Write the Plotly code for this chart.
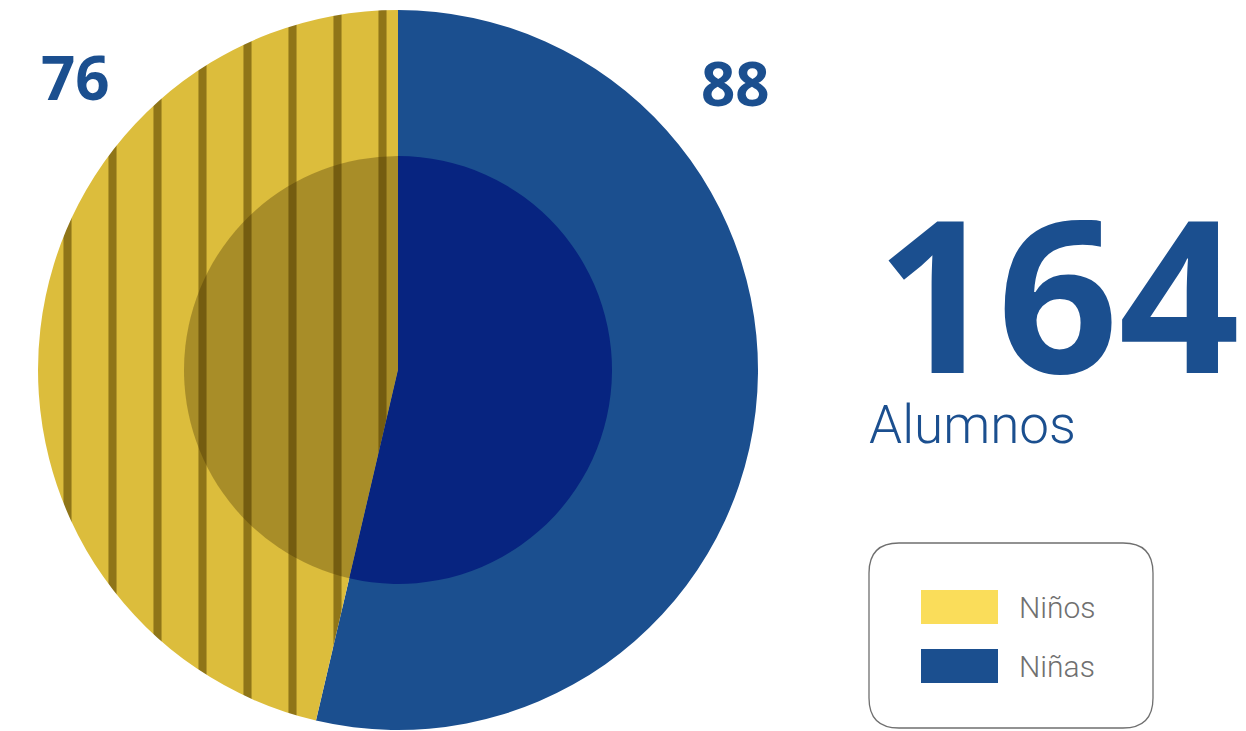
import plotly.graph_objects as go

W, H = 1246, 731

labels = ["Niñas", "Niños"]
values = [88, 76]
total = sum(values)

outer_colors = ["#1B4F8F", "#DCBD3C"]
inner_colors = ["#072480", "rgba(60,40,0,0.32)"]
legend_colors = {"Niños": "#FADD5A", "Niñas": "#1B4F8F"}
legend_order = ["Niños", "Niñas"]

blue = "#1B4F8F"
grey = "#707070"


def px_dom(x0, x1, y0, y1):
    # pixel box -> paper domain
    return dict(x=[x0 / W, x1 / W], y=[1 - y1 / H, 1 - y0 / H])


fig = go.Figure()

fig.add_trace(go.Pie(
    labels=labels, values=values, sort=False, direction="clockwise", rotation=0,
    marker=dict(colors=outer_colors, line=dict(width=0),
                pattern=dict(shape=["", "|"], fgcolor="#6E5608", bgcolor="#DCBD3C",
                             size=45, solidity=0.18, fgopacity=0.7)),
    textinfo="none", showlegend=False, hoverinfo="label+value",
    domain=px_dom(38, 758, 10, 730),
))

fig.add_trace(go.Pie(
    labels=labels, values=values, sort=False, direction="clockwise", rotation=0,
    marker=dict(colors=inner_colors, line=dict(width=0)),
    textinfo="none", showlegend=False, hoverinfo="label+value",
    domain=px_dom(184, 612, 156, 584),
))

annotations = [
    dict(x=75, y=77, text=str(values[1]), font=dict(size=60, color=blue, family="Open Sans", weight="bold")),
    dict(x=735, y=83, text=str(values[0]), font=dict(size=60, color=blue, family="Open Sans", weight="bold")),
    dict(x=1058, y=290, text=str(total), font=dict(size=212, color=blue, family="Open Sans", weight="bold")),
    dict(x=867, y=425, text="Alumnos", xanchor="left",
         font=dict(size=53, color=blue, family="Roboto", weight=300)),
]

shapes = []
x0, y0, x1, y1, r = 869, 543, 1153, 728, 30
path = (f"M {x0 + r},{y0} L {x1 - r},{y0} Q {x1},{y0} {x1},{y0 + r} "
        f"L {x1},{y1 - r} Q {x1},{y1} {x1 - r},{y1} L {x0 + r},{y1} "
        f"Q {x0},{y1} {x0},{y1 - r} L {x0},{y0 + r} Q {x0},{y0} {x0 + r},{y0} Z")
shapes.append(dict(type="path", path=path, xref="x", yref="y",
                   line=dict(color="#6F6F6F", width=1.3), fillcolor="rgba(0,0,0,0)"))

for i, name in enumerate(legend_order):
    yc = 607 + i * 59
    shapes.append(dict(type="rect", xref="x", yref="y", x0=921, x1=998, y0=yc - 17, y1=yc + 17,
                       fillcolor=legend_colors[name], line=dict(width=0)))
    annotations.append(dict(x=1017, y=yc, text=name, xanchor="left",
                            font=dict(size=30, color=grey, family="Roboto", weight=300)))

for a in annotations:
    a.setdefault("xanchor", "center")
    a.update(xref="x", yref="y", yanchor="middle", showarrow=False)

fig.update_layout(
    width=W, height=H, margin=dict(l=0, r=0, t=0, b=0),
    paper_bgcolor="white", plot_bgcolor="white",
    xaxis=dict(range=[0, W], visible=False, domain=[0, 1], fixedrange=True),
    yaxis=dict(range=[H, 0], visible=False, domain=[0, 1], fixedrange=True),
    shapes=shapes, annotations=annotations, showlegend=False,
)

fig.write_html("out.html", config={"displayModeBar": False},
               post_script="document.body.style.margin='0';document.body.style.overflow='hidden';")
